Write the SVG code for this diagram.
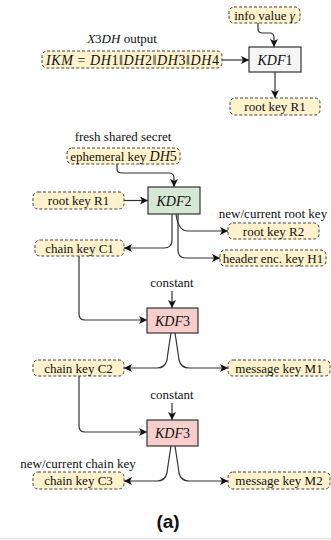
<svg xmlns="http://www.w3.org/2000/svg" width="331" height="540" viewBox="0 0 331 540">
<style>
.t{font-family:"Liberation Serif","DejaVu Serif",serif;font-size:13px;fill:#111;text-anchor:middle}
.k{fill:#fff2cc;stroke:#444;stroke-width:1;stroke-dasharray:3 2}
.p{stroke:#333;stroke-width:1.2}
.c{fill:none;stroke:#333;stroke-width:1.2}
.i{font-style:italic}
.m{font-size:14px}
.s{text-anchor:start}
</style>
<defs>
<marker id="a" markerWidth="9" markerHeight="8" refX="8" refY="4" orient="auto" markerUnits="userSpaceOnUse">
<path d="M0,0 L8,4 L0,8 L2,4 Z" fill="#111"/>
</marker>
</defs>
<rect width="331" height="540" fill="#fff"/>
<g id="connectors">
<path class="c" d="M258,23 V29 Q258,33 263,33 H270 Q274,33 274,38 V47" marker-end="url(#a)"/>
<path class="c" d="M222,60 H249" marker-end="url(#a)"/>
<path class="c" d="M275,72 V98" marker-end="url(#a)"/>
<path class="c" d="M117,164 V169 Q117,173 122,173 H169 Q174,173 174,178 V187" marker-end="url(#a)"/>
<path class="c" d="M124,200.5 H148" marker-end="url(#a)"/>
<path class="c" d="M172,214 V240 Q172,248 164,248 H124" marker-end="url(#a)"/>
<path class="c" d="M176,214 Q178,231 188,231 H228" marker-end="url(#a)"/>
<path class="c" d="M178,214 V250 Q178,258 186,258 H220" marker-end="url(#a)"/>
<path class="c" d="M79,256 V314 Q79,320 85,320 H147" marker-end="url(#a)"/>
<path class="c" d="M172,291 V308" marker-end="url(#a)"/>
<path class="c" d="M171,333 Q168,352 167,360 Q165,368 157,368 H124" marker-end="url(#a)"/>
<path class="c" d="M175,333 Q178,352 179,360 Q181,368 189,368 H228" marker-end="url(#a)"/>
<path class="c" d="M79,376 V426 Q79,432 85,432 H147" marker-end="url(#a)"/>
<path class="c" d="M172,403 V420" marker-end="url(#a)"/>
<path class="c" d="M171,446 Q168,465 167,473 Q165,481 157,481 H124" marker-end="url(#a)"/>
<path class="c" d="M175,446 Q178,465 179,473 Q181,481 189,481 H228" marker-end="url(#a)"/>
</g>
<g id="info"><rect class="k" x="229" y="7" width="71" height="16" rx="5"/><text class="t" x="264.5" y="19.5">info value <tspan class="i">γ</tspan></text></g>
<g id="kdf1"><rect class="p" x="249" y="47" width="52" height="25" fill="#f5f5f5"/><text class="t m" x="275" y="64.5"><tspan class="i">KDF</tspan>1</text></g>
<g id="x3dh-label"><text class="t" x="122" y="43"><tspan class="i">X</tspan>3<tspan class="i">DH</tspan> output</text></g>
<g id="ikm"><rect class="k" x="42" y="51" width="180" height="17" rx="5"/><text class="t m s" x="46" y="64.5" textLength="173" lengthAdjust="spacing"><tspan class="i">IKM</tspan> = <tspan class="i">DH</tspan>1‖<tspan class="i">DH</tspan>2‖<tspan class="i">DH</tspan>3‖<tspan class="i">DH</tspan>4</text></g>
<g id="rootR1a"><rect class="k" x="230" y="98" width="90" height="17" rx="5"/><text class="t" x="275" y="111">root key R1</text></g>
<g id="fresh-label"><text class="t" x="123" y="141">fresh shared secret</text></g>
<g id="eph"><rect class="k" x="67" y="148" width="113" height="16" rx="5"/><text class="t" x="123.5" y="160.5">ephemeral key <tspan class="i m">DH</tspan><tspan class="m">5</tspan></text></g>
<g id="kdf2"><rect class="p" x="148" y="187" width="52" height="27" fill="#d5e8d4"/><text class="t m" x="174" y="205.5"><tspan class="i">KDF</tspan>2</text></g>
<g id="rootR1b"><rect class="k" x="33" y="192" width="91" height="17" rx="5"/><text class="t" x="78.5" y="205">root key R1</text></g>
<g id="newroot-label"><text class="t" x="273" y="218">new/current root key</text></g>
<g id="rootR2"><rect class="k" x="228" y="223" width="91" height="16" rx="5"/><text class="t" x="273.5" y="235.5">root key R2</text></g>
<g id="h1"><rect class="k" x="220" y="250" width="106" height="16" rx="5"/><text class="t" x="273" y="262.5">header enc. key H1</text></g>
<g id="c1"><rect class="k" x="35" y="240" width="89" height="16" rx="5"/><text class="t" x="79.5" y="252.5">chain key C1</text></g>
<g id="const1"><text class="t" x="172" y="287">constant</text></g>
<g id="kdf3a"><rect class="p" x="147" y="308" width="51" height="25" fill="#f8cecc"/><text class="t m" x="172.5" y="325.5"><tspan class="i">KDF</tspan>3</text></g>
<g id="c2"><rect class="k" x="33" y="360" width="91" height="16" rx="5"/><text class="t" x="78.5" y="372.5">chain key C2</text></g>
<g id="m1"><rect class="k" x="228" y="360" width="102" height="16" rx="5"/><text class="t" x="279" y="372.5">message key M1</text></g>
<g id="const2"><text class="t" x="172" y="399">constant</text></g>
<g id="kdf3b"><rect class="p" x="147" y="420" width="51" height="26" fill="#f8cecc"/><text class="t m" x="172.5" y="437.5"><tspan class="i">KDF</tspan>3</text></g>
<g id="newchain-label"><text class="t" x="78" y="468">new/current chain key</text></g>
<g id="c3"><rect class="k" x="33" y="472" width="91" height="17" rx="5"/><text class="t" x="78.5" y="485">chain key C3</text></g>
<g id="m2"><rect class="k" x="228" y="472" width="102" height="17" rx="5"/><text class="t" x="279" y="485">message key  M2</text></g>
<g id="caption"><text x="168" y="528" font-family="Liberation Sans, Arial, sans-serif" font-weight="bold" font-size="19" text-anchor="middle" fill="#111">(a)</text></g>
<line x1="0" y1="538.5" x2="331" y2="538.5" stroke="#ddd" stroke-width="1"/>
</svg>
